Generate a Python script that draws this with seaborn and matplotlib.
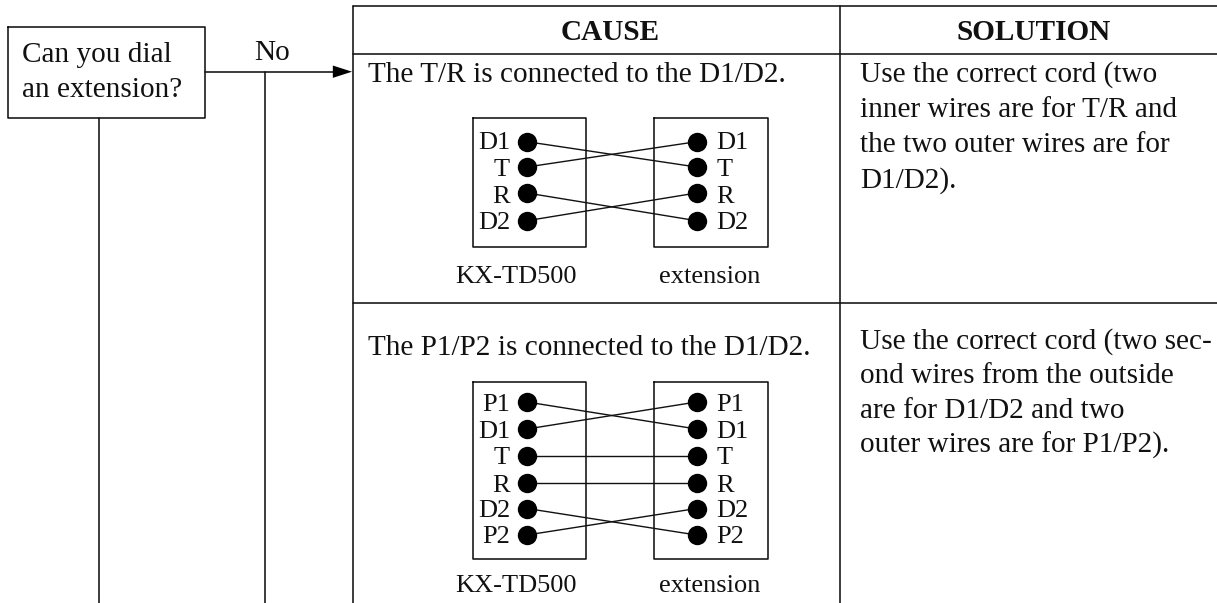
import numpy as np
import pandas as pd
import matplotlib
matplotlib.use("Agg")
import matplotlib.pyplot as plt
import seaborn as sns

W, H = 1217, 603
sns.set_theme(style="white")
plt.rcParams['font.family'] = ['Liberation Serif', 'DejaVu Serif']
INK = '#111111'
FS = 21.1
FS_D = 19
LW = 1.15

# ---- content
header_labels = ["CAUSE", "SOLUTION"]
question_lines = ["Can you dial", "an extension?"]
no_label = "No"
cause_1 = "The T/R is connected to the D1/D2."
cause_2 = "The P1/P2 is connected to the D1/D2."
solution_1 = ["Use the correct cord (two", "inner wires are for T/R and", "the two outer wires are for", "D1/D2)."]
solution_2 = ["Use the correct cord (two sec-", "ond wires from the outside", "are for D1/D2 and two", "outer wires are for P1/P2)."]
device_labels = ["KX-TD500", "extension"]

pins_1 = ["D1", "T", "R", "D2"]
wires_1 = [1, 0, 3, 2]
rows_1 = [141.7, 167.0, 193.0, 220.7]
base_1 = [149.3, 175.7, 203.0, 229.0]
pins_2 = ["P1", "D1", "T", "R", "D2", "P2"]
wires_2 = [1, 0, 2, 3, 5, 4]
rows_2 = [402.0, 429.0, 455.7, 483.0, 508.5, 535.0]
base_2 = [410.7, 437.7, 464.3, 491.7, 516.7, 543.3]

left_dot_x = 527
right_dot_x = 696.5

fig = plt.figure(figsize=(W/100, H/100), dpi=100)
ax = fig.add_axes([0, 0, 1, 1])
ax.set_xlim(0, W)
ax.set_ylim(H, 0)
ax.axis('off')

def seg(xs, ys, lw=LW):
    sns.lineplot(x=xs, y=ys, ax=ax, color=INK, lw=lw, sort=False, estimator=None, errorbar=None, legend=False)

def rect(x0, y0, x1, y1, lw=LW):
    seg([x0, x1, x1, x0, x0], [y0, y0, y1, y1, y0], lw)

def label(x, y, t, ha='left', fs=FS, **kw):
    ax.text(x, y, t, ha=ha, va='baseline', fontsize=fs, color=INK, **kw)

def diagram(pins, wires, rows, bases, top, bottom, label_y):
    rect(472.7, top, 586, bottom)
    rect(654.3, top, 767.7, bottom)
    for i, w in enumerate(wires):
        seg([left_dot_x, right_dot_x], [rows[i], rows[w]], 1.0)
    df = pd.DataFrame({'x': [left_dot_x]*len(rows) + [right_dot_x]*len(rows), 'y': rows + rows})
    sns.scatterplot(data=df, x='x', y='y', ax=ax, s=195, color='black', linewidth=0, legend=False, zorder=5)
    for p, y in zip(pins, bases):
        label(510, y, p, ha='right', fs=FS_D)
        label(716.5, y, p, fs=FS_D)
    label(455, label_y, device_labels[0], fs=FS_D)
    label(658.5, label_y, device_labels[1], fs=FS_D)

# flow box and connectors
rect(7.7, 27.3, 205, 117.7)
label(22.5, 61.7, question_lines[0])
label(22.5, 96.7, question_lines[1])
seg([99, 99], [117.7, H])
seg([265, 265], [71.7, H])
seg([205, 340], [71.7, 71.7])
ax.annotate('', xy=(352, 71.7), xytext=(328, 71.7),
            arrowprops=dict(arrowstyle='-|>,head_length=1.15,head_width=0.37', color='black', lw=0, shrinkA=0, shrinkB=0))
label(272.5, 60, no_label, ha='center')

# table
seg([353, 353], [5.7, H])
seg([840, 840], [5.7, H])
seg([353, W], [5.7, 5.7])
seg([353, W], [54, 54])
seg([353, W], [303.3, 303.3])
label(610, 40, header_labels[0], ha='center', fontweight='bold')
label(1033.5, 40, header_labels[1], ha='center', fontweight='bold')
label(368.3, 82.3, cause_1)
label(368.3, 355, cause_2)
for y, t in zip([82, 117.3, 152.5, 187.7], solution_1):
    label(860, y, t)
for y, t in zip([348.3, 383, 418, 452.7], solution_2):
    label(860, y, t)

diagram(pins_1, wires_1, rows_1, base_1, 118, 247, 283)
diagram(pins_2, wires_2, rows_2, base_2, 381.7, 559, 592)

fig.savefig('out.png', dpi=100, facecolor='white')
